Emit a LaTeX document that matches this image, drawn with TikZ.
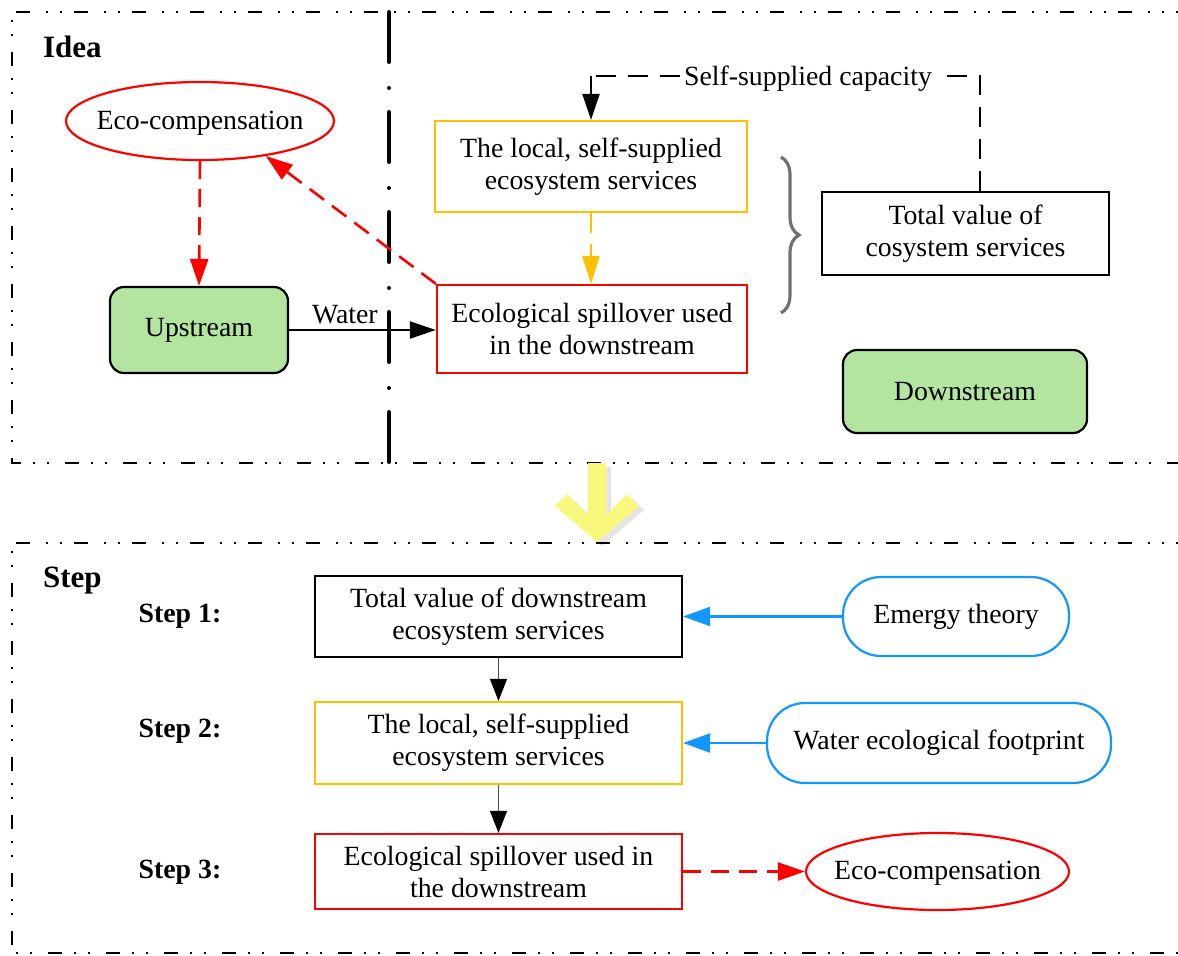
\documentclass[tikz,border=0pt]{standalone}
\usepackage{fontspec}
\setmainfont{Liberation Serif}
\usetikzlibrary{arrows.meta,decorations.pathreplacing,shapes.geometric}
\definecolor{myred}{RGB}{255,0,0}
\definecolor{myyel}{RGB}{255,192,0}
\definecolor{mygreen}{RGB}{179,229,160}
\definecolor{myblue}{RGB}{20,150,255}
\definecolor{arrowyel}{RGB}{248,248,125}
\definecolor{bracegray}{RGB}{112,112,112}
\begin{document}
\begin{tikzpicture}[x=0.5pt,y=-0.5pt,
  font=\fontsize{13.9}{16}\selectfont,
  frame/.style={line width=1.3pt,dash pattern=on 7pt off 6pt on 1pt off 6pt on 1pt off 8pt},
  divider/.style={line width=2pt,line cap=round,dash pattern=on 25pt off 13pt on 0pt off 12pt},
  box/.style={draw,line width=1.1pt,align=center,inner sep=0pt},
  greenbox/.style={box,fill=mygreen,rounded corners=7pt},
  ell/.style={ellipse,draw=myred,line width=1.1pt,inner sep=0pt},
  pill/.style={box,draw=myblue,rounded corners=19pt},
  header/.style={font=\fontsize{15.5}{18}\selectfont\bfseries,anchor=west},
  steplab/.style={font=\fontsize{13.9}{16}\selectfont\bfseries},
  blk/.style={-{Triangle[length=13pt,width=8.5pt]},line width=1.1pt},
  thinblk/.style={-{Triangle[length=11pt,width=8.5pt,color=black]},line width=0.5pt,black!70},
  reddash/.style={-{Triangle[length=13.5pt,width=9pt]},line width=1.3pt,myred,dash pattern=on 9pt off 5pt},
  yeldash/.style={-{Triangle[length=14pt,width=8.5pt]},line width=1.3pt,myyel,dash pattern=on 10pt off 5.5pt},
  bluearr/.style={-{Triangle[length=13.5pt,width=9.5pt]},line width=1.2pt,myblue},
  capdash/.style={line width=1.1pt,dash pattern=on 10pt off 6pt}
]
\useasboundingbox (0,0) rectangle (1178,955);

% frames
\draw[frame] (1190,12) -- (12,12) -- (12,463) -- (1190,463);
\draw[frame] (1190,543) -- (12,543) -- (12,953) -- (1190,953);
\draw[divider] (389,12) -- (389,463);

% headers
\node[header] (idea) at (36,47) {Idea};
\node[header] (step) at (36,581) {Step};

% top part nodes
\node[ell,minimum width=134pt,minimum height=39pt] (eco1) at (200,121) {};
\node (eco1t) at (200,123) {Eco-compensation};
\node[greenbox,minimum width=89pt,minimum height=43pt] (up) at (199,330) {Upstream};
\node[box,draw=myyel,minimum width=156pt,minimum height=45.5pt] (yel1) at (591,166.5) {The local, self-supplied\\ecosystem services};
\node[box,draw=myred,minimum width=155pt,minimum height=44pt] (red1) at (592,329) {Ecological spillover used\\in the downstream};
\node[box,minimum width=143.5pt,minimum height=41.5pt] (tot) at (965.5,233.5) {Total value of\\cosystem services};
\node[greenbox,minimum width=122pt,minimum height=41.5pt] (down) at (965,391.5) {Downstream};
\node[fill=white,inner sep=2pt] (ssc) at (808,79) {Self-supplied capacity};
\coordinate (corner) at (591,76);

% top connectors
\draw[reddash] (eco1.south) -- (up.north);
\draw[reddash] (red1.north west) -- (eco1.-28);
\draw[yeldash] (yel1.south) -- (yel1.south |- red1.north);
\draw[blk] (up.east) -- node[pos=0.38,above=-1pt] {Water} (up.east -| red1.west);
\draw[capdash] (tot.north -| 980,0) -- (980,76) -- (ssc.east |- 0,76);
\draw[capdash] (ssc.west |- 0,76) -- (corner);
\draw[blk] (corner) -- (yel1.north);
\draw[bracegray,line width=1.6pt,decorate,decoration={brace,amplitude=9pt}] (781,157) -- (781,313);

% big yellow arrow
\fill[gray!20] (611,467) -- (611,519) -- (632,498) -- (644,510) -- (602,546) -- (560,510) -- (572,498) -- (593,519) -- (593,467) -- cycle;
\fill[arrowyel] (606,463) -- (606,515) -- (627,494) -- (639,506) -- (597,542) -- (555,506) -- (567,494) -- (588,515) -- (588,463) -- cycle;
\draw[frame] (1190,543) -- (12,543);

% bottom part
\node[steplab] (s1) at (180,616) {Step 1:};
\node[steplab] (s2) at (180,731) {Step 2:};
\node[steplab] (s3) at (180,872) {Step 3:};
\node[box,minimum width=183.5pt,minimum height=40.5pt] (b1) at (498.5,616.5) {Total value of downstream\\ecosystem services};
\node[box,draw=myyel,minimum width=183.5pt,minimum height=41pt] (b2) at (498.5,743) {The local, self-supplied\\ecosystem services};
\node[box,draw=myred,minimum width=183.5pt,minimum height=37.5pt] (b3) at (498.5,871.5) {Ecological spillover used in\\the downstream};
\node[pill,minimum width=113pt,minimum height=39.5pt] (em) at (956,616.5) {Emergy theory};
\node[pill,minimum width=172pt,minimum height=40pt] (wef) at (939,743) {Water ecological footprint};
\node[ell,minimum width=131.5pt,minimum height=38.5pt] (eco2) at (937.5,871.5) {};
\node (eco2t) at (937.5,873.5) {Eco-compensation};

\draw[thinblk] (b1) -- (b2);
\draw[thinblk] (b2) -- (b3);
\draw[bluearr] (em.west) -- (em.west -| b1.east);
\draw[bluearr] (wef.west) -- (wef.west -| b2.east);
\draw[reddash] (b3.east) -- (eco2.west);
\end{tikzpicture}
\end{document}
